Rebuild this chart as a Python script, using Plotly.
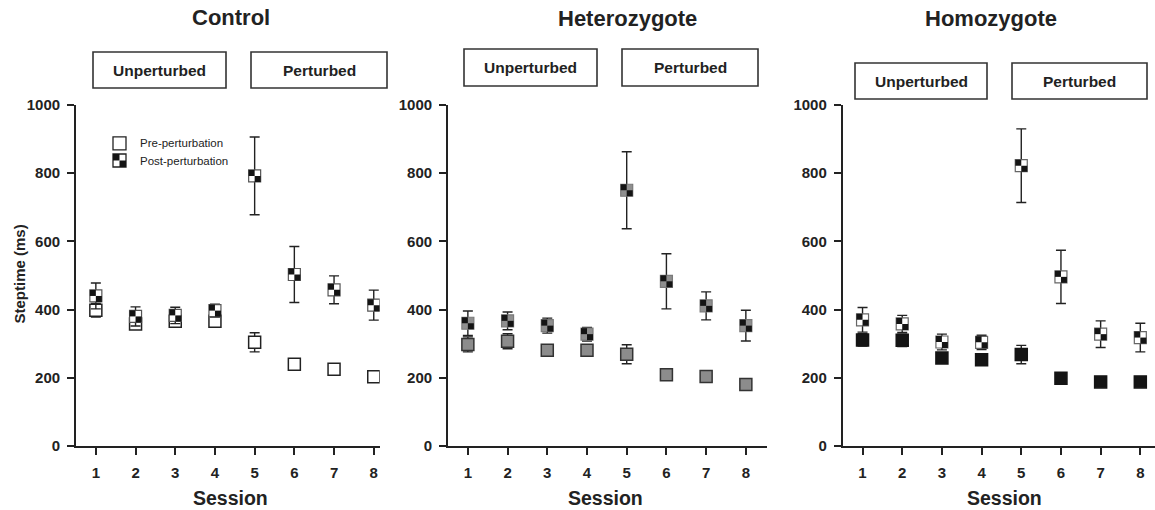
import plotly.graph_objects as go

# ---------------- data ----------------
sessions = [1, 2, 3, 4, 5, 6, 7, 8]
session_labels = ["1", "2", "3", "4", "5", "6", "7", "8"]
y_ticks = [0, 200, 400, 600, 800, 1000]

ctrl_pre = [398, 358, 366, 366, 304, 240, 225, 203]
ctrl_pre_err = [20, 12, 8, 8, 28, 8, 8, 8]
ctrl_post = [440, 380, 383, 397, 792, 503, 458, 413]
ctrl_post_err = [38, 28, 24, 19, 114, 82, 41, 44]

het_pre = [298, 307, 281, 281, 269, 209, 204, 180]
het_pre_err = [22, 22, 8, 8, 28, 8, 8, 8]
het_post = [360, 367, 353, 328, 750, 483, 411, 353]
het_post_err = [36, 26, 22, 20, 113, 81, 41, 45]

hom_pre = [311, 310, 258, 253, 268, 199, 188, 188]
hom_pre_err = [18, 18, 8, 8, 27, 8, 8, 8]
hom_post = [370, 358, 305, 304, 822, 496, 328, 318]
hom_post_err = [36, 25, 23, 21, 108, 78, 39, 42]

titles = ["Control", "Heterozygote", "Homozygote"]

# ---------------- layout constants ----------------
W, H = 1155, 510
TOP, BOT = 105, 446          # pixel rows of y=1000 and y=0
ML, MR = 0, 0
FONT = "Liberation Sans, Arial, sans-serif"
INK = "#222222"

panels = [
    dict(name=titles[0], pre=ctrl_pre, pre_err=ctrl_pre_err, post=ctrl_post, post_err=ctrl_post_err,
         x0=76, x1=379.7, xmax=8.15, pre_fill="white", pre_line="#222222",
         post_light="white", post_line="#555555",
         title_x=231, title_y=17, box_y=(52, 88), box1=(93, 226), box2=(251, 387), sess_x=230),
    dict(name=titles[1], pre=het_pre, pre_err=het_pre_err, post=het_post, post_err=het_post_err,
         x0=448, x1=766.5, xmax=8.52, pre_fill="#8c8c8c", pre_line="#333333",
         post_light="#8f8f8f", post_line="#7a7a7a",
         title_x=627, title_y=18, box_y=(49, 86), box1=(464, 597), box2=(622, 758), sess_x=605),
    dict(name=titles[2], pre=hom_pre, pre_err=hom_pre_err, post=hom_post, post_err=hom_post_err,
         x0=842.7, x1=1155, xmax=8.37, pre_fill="#141414", pre_line="#141414",
         post_light="white", post_line="#666666",
         title_x=991, title_y=18, box_y=(63, 99), box1=(855, 987), box2=(1012, 1147), sess_x=1004),
]


def px(x):
    return (x - ML) / (W - ML - MR)


def py(y):
    return (BOT - y) / (BOT - TOP)


fig = go.Figure()
shapes = []
annotations = []

MS = 12          # marker size in px
Q = 3            # quadrant offset in px

for i, p in enumerate(panels):
    k = "" if i == 0 else str(i + 1)
    xa, ya = "x" + k, "y" + k
    xmin = 0.5
    ppu_x = (p["x1"] - p["x0"]) / (p["xmax"] - xmin)
    ppu_y = (BOT - TOP) / 1000.0
    dx = Q / ppu_x
    dy = Q / ppu_y

    # pre-perturbation
    fig.add_trace(go.Scatter(
        x=sessions, y=p["pre"], mode="markers", xaxis=xa, yaxis=ya, showlegend=False,
        error_y=dict(type="data", array=p["pre_err"], color=INK, thickness=1.4, width=5),
        marker=dict(symbol="square", size=MS, color=p["pre_fill"],
                    line=dict(color=p["pre_line"], width=1.5)),
        hoverinfo="x+y"))
    # post-perturbation base
    fig.add_trace(go.Scatter(
        x=sessions, y=p["post"], mode="markers", xaxis=xa, yaxis=ya, showlegend=False,
        error_y=dict(type="data", array=p["post_err"], color=INK, thickness=1.4, width=5),
        marker=dict(symbol="square", size=MS, color=p["post_light"],
                    line=dict(color=p["post_line"], width=1.2)),
        hoverinfo="x+y"))
    # checker quadrants (top-left, bottom-right)
    fig.add_trace(go.Scatter(
        x=[s - dx for s in sessions], y=[v + dy for v in p["post"]], mode="markers",
        xaxis=xa, yaxis=ya, showlegend=False, hoverinfo="skip",
        marker=dict(symbol="square", size=MS / 2, color="#141414", line=dict(width=0))))
    fig.add_trace(go.Scatter(
        x=[s + dx for s in sessions], y=[v - dy for v in p["post"]], mode="markers",
        xaxis=xa, yaxis=ya, showlegend=False, hoverinfo="skip",
        marker=dict(symbol="square", size=MS / 2, color="#141414", line=dict(width=0))))

    axis_common = dict(showgrid=False, zeroline=False, showline=True, linecolor=INK, linewidth=1.8,
                       ticks="outside", ticklen=7, tickwidth=1.6, tickcolor=INK,
                       tickfont=dict(family=FONT, size=15, color=INK, weight="bold"))
    fig.layout["xaxis" + k] = dict(axis_common, domain=[px(p["x0"]), px(p["x1"])],
                                   range=[xmin, p["xmax"]], tickvals=sessions,
                                   ticktext=session_labels, anchor=ya, ticklabelstandoff=5)
    fig.layout["yaxis" + k] = dict(axis_common, domain=[0, 1], range=[0, 1000],
                                   tickvals=y_ticks, anchor=xa, ticklabelstandoff=4)

    # panel title
    annotations.append(dict(text="<b>%s</b>" % p["name"], x=px(p["title_x"]), y=py(p["title_y"]),
                            xref="paper", yref="paper", showarrow=False, xanchor="center",
                            yanchor="middle", font=dict(family=FONT, size=22, color=INK)))
    # boxes
    yb0, yb1 = p["box_y"]
    for (bx0, bx1), lab in ((p["box1"], "Unperturbed"), (p["box2"], "Perturbed")):
        shapes.append(dict(type="rect", xref="paper", yref="paper", x0=px(bx0), x1=px(bx1),
                           y0=py(yb1), y1=py(yb0), line=dict(color="#333333", width=1.6),
                           fillcolor="white", layer="above"))
        annotations.append(dict(text="<b>%s</b>" % lab, x=px((bx0 + bx1) / 2), y=py((yb0 + yb1) / 2),
                                xref="paper", yref="paper", showarrow=False, xanchor="center",
                                yanchor="middle", font=dict(family=FONT, size=15.5, color=INK)))
    # x-axis title
    annotations.append(dict(text="<b>Session</b>", x=px(p["sess_x"]), y=py(498),
                            xref="paper", yref="paper", showarrow=False, xanchor="center",
                            yanchor="middle", font=dict(family=FONT, size=19.5, color=INK)))

# y-axis title
annotations.append(dict(text="<b>Steptime (ms)</b>", x=px(18.5), y=py(274), textangle=-90,
                        xref="paper", yref="paper", showarrow=False, xanchor="center",
                        yanchor="middle", font=dict(family=FONT, size=15, color=INK)))

# legend (control panel)
lx, ls = 119.5, 13
for ly, lab, checker in ((143.3, "Pre-perturbation", False), (160.5, "Post-perturbation", True)):
    shapes.append(dict(type="rect", xref="paper", yref="paper",
                       x0=px(lx - ls / 2), x1=px(lx + ls / 2), y0=py(ly + ls / 2), y1=py(ly - ls / 2),
                       line=dict(color="#222222", width=1.3), fillcolor="white"))
    if checker:
        shapes.append(dict(type="rect", xref="paper", yref="paper", line=dict(width=0),
                           x0=px(lx - ls / 2), x1=px(lx), y0=py(ly), y1=py(ly - ls / 2),
                           fillcolor="#141414"))
        shapes.append(dict(type="rect", xref="paper", yref="paper", line=dict(width=0),
                           x0=px(lx), x1=px(lx + ls / 2), y0=py(ly + ls / 2), y1=py(ly),
                           fillcolor="#141414"))
    annotations.append(dict(text=lab, x=px(138), y=py(ly), xref="paper", yref="paper",
                            showarrow=False, xanchor="left", yanchor="middle",
                            font=dict(family=FONT, size=11.5, color=INK)))

fig.update_layout(width=W, height=H, margin=dict(l=ML, r=MR, t=TOP, b=H - BOT),
                  paper_bgcolor="white", plot_bgcolor="white", showlegend=False,
                  shapes=shapes, annotations=annotations,
                  font=dict(family=FONT, color=INK))

fig.write_html("out.html")
